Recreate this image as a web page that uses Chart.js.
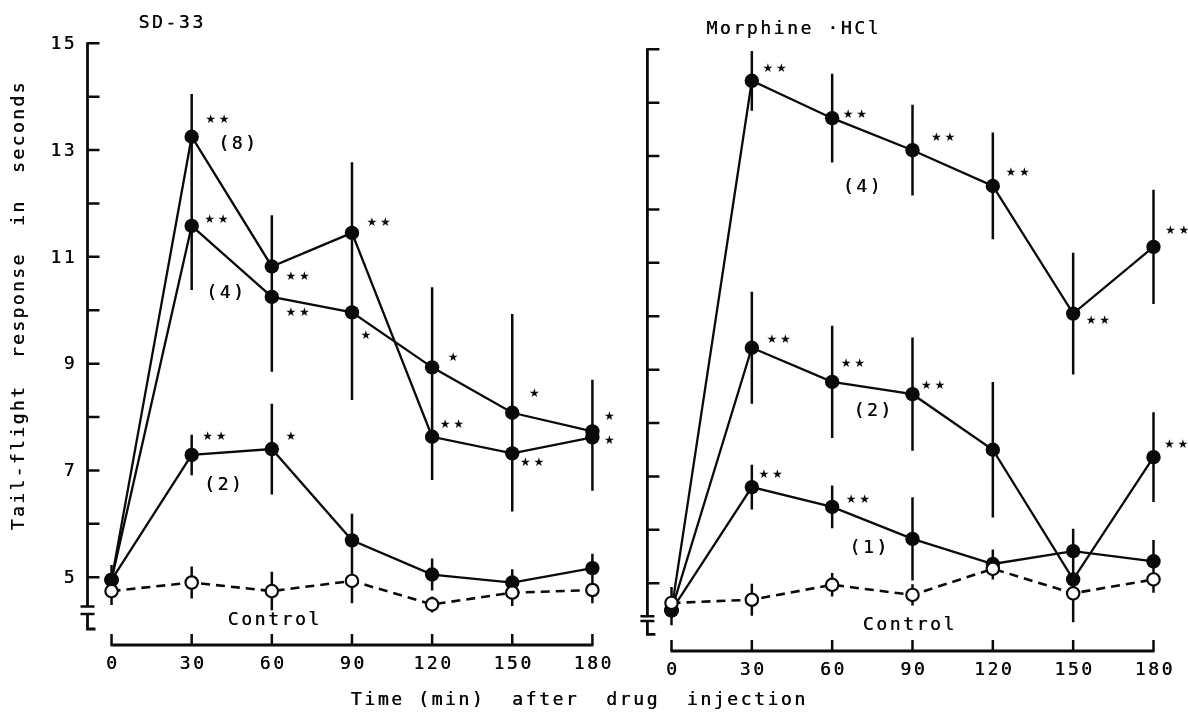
<!DOCTYPE html>
<html><head><meta charset="utf-8">
<script src="https://cdn.jsdelivr.net/npm/chart.js@4/dist/chart.umd.min.js"></script>
<style>
html,body{margin:0;padding:0;background:#fff;}
#wrap{position:relative;width:1188px;height:713px;overflow:hidden;}
canvas{position:absolute;left:0;top:0;}
</style></head><body>
<div id="wrap"><canvas id="cL" width="1188" height="713"></canvas><canvas id="cR" width="1188" height="713"></canvas></div>
<script>
// ---------- data ----------
const times = [0, 30, 60, 90, 120, 150, 180];
const xTickLabels = [0, 30, 60, 90, 120, 150, 180];
const yTickLabels = [5, 7, 9, 11, 13, 15];
const yTickMarks = [5, 6, 7, 8, 9, 10, 11, 12, 13, 14, 15];

// SD-33 (left panel)
const sd33Dose8 = [4.95, 13.25, 10.82, 11.45, 7.63, 7.32, 7.62];
const sd33Dose8Err = [0.28, 0.80, 0.96, 1.32, 0.81, 0.81, 1.00];
const sd33Dose4 = [4.95, 11.58, 10.25, 9.96, 8.93, 8.08, 7.73];
const sd33Dose4Err = [0.28, 1.20, 1.40, 1.64, 1.50, 1.85, 0.97];
const sd33Dose2 = [4.95, 7.29, 7.40, 5.69, 5.05, 4.90, 5.17];
const sd33Dose2Err = [0.28, 0.38, 0.85, 0.50, 0.30, 0.25, 0.27];
const sd33Control = [4.74, 4.90, 4.74, 4.93, 4.49, 4.71, 4.76];
const sd33ControlErr = [0.26, 0.30, 0.36, 0.42, 0.15, 0.25, 0.25];

// Morphine HCl (right panel)
const morDose4 = [4.49, 14.41, 13.71, 13.11, 12.44, 10.05, 11.30];
const morDose4Err = [0.28, 0.56, 0.83, 0.85, 1.00, 1.14, 1.07];
const morDose2 = [4.49, 9.41, 8.77, 8.54, 7.50, 5.07, 7.36];
const morDose2Err = [0.28, 1.05, 1.05, 1.06, 1.27, 0.80, 0.84];
const morDose1 = [4.49, 6.80, 6.43, 5.83, 5.36, 5.60, 5.41];
const morDose1Err = [0.28, 0.42, 0.40, 0.78, 0.27, 0.42, 0.40];
const morControl = [4.63, 4.69, 4.97, 4.78, 5.27, 4.81, 5.07];
const morControlErr = [0.30, 0.30, 0.22, 0.20, 0.20, 0.50, 0.25];

// significance marks: [seriesKey, pointIndex, text]
const sd33Stars = [
  ['d8',1,'**'],['d8',2,'**'],['d8',3,'**'],['d8',4,'**'],['d8',5,'**'],['d8',6,'*'],
  ['d4',1,'**'],['d4',2,'**'],['d4',3,'*'],['d4',4,'*'],['d4',5,'*'],['d4',6,'*'],
  ['d2',1,'**'],['d2',2,'*']
];
const morStars = [
  ['d4',1,'**'],['d4',2,'**'],['d4',3,'**'],['d4',4,'**'],['d4',5,'**'],['d4',6,'**'],
  ['d2',1,'**'],['d2',2,'**'],['d2',3,'**'],['d2',6,'**'],
  ['d1',1,'**'],['d1',2,'**']
];
// group labels: [text, time, value]
const sd33Labels = [['(8)', 47, 13.1], ['(4)', 42.5, 10.32], ['(2)', 41.7, 6.73], ['Control', 60.6, 4.2]];
const morLabels = [['(4)', 71, 12.42], ['(2)', 75, 8.21], ['(1)', 73.5, 5.65], ['Control', 88.5, 4.21]];

// ---------- styling / placement ----------
const INK = '#0a0a0a';
const FONT = '"DejaVu Sans Mono", "Liberation Mono", monospace';
const starOffsetsL = {
  'd8-1':[19,-17],'d8-2':[19,10],'d8-3':[20,-10],'d8-4':[13,-12],'d8-5':[13,10],'d8-6':[17,4],
  'd4-1':[18,-6],'d4-2':[19,16],'d4-3':[14,23],'d4-4':[21,-9],'d4-5':[22,-19],'d4-6':[17,-15],
  'd2-1':[16,-18],'d2-2':[19,-12]
};
const starOffsetsR = {
  'd4-1':[16,-12],'d4-2':[16,-3],'d4-3':[24,-12],'d4-4':[18,-13],'d4-5':[18,7],'d4-6':[17,-16],
  'd2-1':[20,-8],'d2-2':[14,-18],'d2-3':[14,-8],'d2-6':[16,-12],
  'd1-1':[12,-12],'d1-2':[19,-7]
};

function drawText(ctx, s, x, y, size, align, ls) {
  ctx.save();
  ctx.font = size + 'px ' + FONT;
  ctx.fillStyle = INK;
  ctx.textBaseline = 'middle';
  ctx.textAlign = 'left';
  if ('letterSpacing' in ctx) ctx.letterSpacing = ls + 'px';
  let w = ctx.measureText(s).width;
  if ('letterSpacing' in ctx) w -= ls;
  let x0 = x;
  if (align === 'center') x0 = x - w / 2;
  else if (align === 'right') x0 = x - w;
  ctx.fillText(s, x0, y);
  // slight emboldening like typewriter ink
  ctx.fillText(s, x0 + 0.4, y);
  ctx.restore();
}

function drawStars(ctx, n, x, y) {
  ctx.save();
  ctx.font = '12px "DejaVu Sans"';
  ctx.fillStyle = INK;
  ctx.textAlign = 'center';
  ctx.textBaseline = 'middle';
  for (let k = 0; k < n; k++) ctx.fillText('\u2605', x + k * 13.5, y);
  ctx.restore();
}

function makePanel(cfg) {
  const series = cfg.series;
  const datasets = [];
  const order = ['ctrl'].concat(Object.keys(series).filter(k => k !== 'ctrl'));
  order.forEach(k => {
    const s = series[k];
    const isCtrl = k === 'ctrl';
    datasets.push({
      label: k,
      data: times.map((t, i) => ({x: t, y: s.v[i]})),
      borderColor: INK,
      borderWidth: isCtrl ? 2.6 : 2.3,
      borderDash: isCtrl ? [9, 6] : [],
      pointRadius: isCtrl ? 6.2 : 7.2,
      pointHoverRadius: isCtrl ? 6.2 : 7.2,
      pointBackgroundColor: isCtrl ? '#fff' : INK,
      pointBorderColor: INK,
      pointBorderWidth: isCtrl ? 2.2 : 0,
      tension: 0,
      fill: false,
      clip: false
    });
  });

  const decor = {
    id: 'decor' + cfg.id,
    beforeDatasetsDraw(chart) {
      const ctx = chart.ctx, xs = chart.scales.x, ys = chart.scales.y;
      const ax = xs.getPixelForValue(xs.min);
      ctx.save();
      ctx.strokeStyle = INK;
      ctx.lineCap = 'butt';
      ctx.lineWidth = 2.8;
      const yTop = ys.getPixelForValue(15);
      const yB1 = ys.getPixelForValue(cfg.breakVals[0]);
      const yB2 = ys.getPixelForValue(cfg.breakVals[1]);
      const yBot = ys.getPixelForValue(cfg.bottomVal);
      ctx.beginPath();
      ctx.moveTo(ax, yTop - 1); ctx.lineTo(ax, yB1);
      ctx.moveTo(ax, yB2); ctx.lineTo(ax, yBot);
      ctx.lineTo(ax + 8, yBot);
      ctx.stroke();
      ctx.lineWidth = 2.5;
      ctx.beginPath();
      ctx.moveTo(ax - 7, yB1); ctx.lineTo(ax + 7, yB1);
      ctx.moveTo(ax - 7, yB2); ctx.lineTo(ax + 7, yB2);
      ctx.stroke();
      ctx.lineWidth = 2.5;
      ctx.beginPath();
      yTickMarks.forEach(v => {
        const y = ys.getPixelForValue(v);
        ctx.moveTo(ax, y); ctx.lineTo(ax + 12, y);
      });
      ctx.stroke();
      const yx = ys.getPixelForValue(ys.min);
      ctx.lineWidth = 2.8;
      ctx.beginPath();
      ctx.moveTo(xs.getPixelForValue(times[0]) - 1, yx);
      ctx.lineTo(xs.getPixelForValue(times[times.length - 1]) + 1, yx);
      ctx.stroke();
      ctx.lineWidth = 2.5;
      ctx.beginPath();
      xTickLabels.forEach(t => {
        const x = xs.getPixelForValue(t);
        ctx.moveTo(x, yx); ctx.lineTo(x, yx - 11);
      });
      ctx.stroke();
      ctx.lineWidth = 2.5;
      ctx.beginPath();
      Object.keys(series).forEach(k => {
        const s = series[k];
        times.forEach((t, i) => {
          const x = xs.getPixelForValue(t);
          ctx.moveTo(x, ys.getPixelForValue(s.v[i] + s.e[i]));
          ctx.lineTo(x, ys.getPixelForValue(s.v[i] - s.e[i]));
        });
      });
      ctx.stroke();
      ctx.restore();
    },
    afterDatasetsDraw(chart) {
      const ctx = chart.ctx, xs = chart.scales.x, ys = chart.scales.y;
      const ax = xs.getPixelForValue(xs.min);
      const yx = ys.getPixelForValue(ys.min);
      xTickLabels.forEach(t => drawText(ctx, String(t), xs.getPixelForValue(t), yx + 19, 18, 'center', 2.6));
      if (cfg.yLabels) yTickLabels.forEach(v => drawText(ctx, String(v), ax - 13, ys.getPixelForValue(v) + 1, 18, 'right', 2.6));
      drawText(ctx, cfg.title, ax + cfg.titleDx, ys.getPixelForValue(15) - 20, 18, 'left', 2.6);
      cfg.labels.forEach(([s, t, v]) => drawText(ctx, s, xs.getPixelForValue(t), ys.getPixelForValue(v), 18, 'center', 2.6));
      cfg.stars.forEach(([k, i, s]) => {
        const off = cfg.starOffsets[k + '-' + i];
        const x = xs.getPixelForValue(times[i]) + off[0];
        const y = ys.getPixelForValue(series[k].v[i]) + off[1];
        drawStars(ctx, s.length, x, y);
      });
      if (cfg.extra) cfg.extra(ctx);
    }
  };

  return new Chart(document.getElementById(cfg.id), {
    type: 'line',
    data: {datasets},
    options: {
      responsive: false,
      animation: false,
      layout: {padding: cfg.pad},
      scales: {
        x: {type: 'linear', min: -9, max: 180, display: false},
        y: {type: 'linear', min: 3.73, max: 15, display: false}
      },
      plugins: {legend: {display: false}, tooltip: {enabled: false}}
    },
    plugins: [decor]
  });
}

makePanel({
  id: 'cL',
  pad: {left: 87.5, top: 43.3, right: 1188 - 592.4, bottom: 713 - 645},
  series: {
    ctrl: {v: sd33Control, e: sd33ControlErr},
    d8: {v: sd33Dose8, e: sd33Dose8Err},
    d4: {v: sd33Dose4, e: sd33Dose4Err},
    d2: {v: sd33Dose2, e: sd33Dose2Err}
  },
  breakVals: [4.45, 4.31], bottomVal: 4.03,
  yLabels: true, title: 'SD-33', titleDx: 51,
  labels: sd33Labels, stars: sd33Stars, starOffsets: starOffsetsL,
  extra(ctx) {
    ctx.save();
    ctx.translate(19, 306.5);
    ctx.rotate(-Math.PI / 2);
    drawText(ctx, 'Tail-flight  response  in  seconds', 0, 0, 18, 'center', 2.4);
    ctx.restore();
    drawText(ctx, 'Time (min)  after  drug  injection', 578, 700, 18, 'center', 2.6);
  }
});

makePanel({
  id: 'cR',
  pad: {left: 647.4, top: 49.3, right: 1188 - 1153.5, bottom: 713 - 651},
  series: {
    ctrl: {v: morControl, e: morControlErr},
    d4: {v: morDose4, e: morDose4Err},
    d2: {v: morDose2, e: morDose2Err},
    d1: {v: morDose1, e: morDose1Err}
  },
  breakVals: [4.38, 4.29], bottomVal: 4.04,
  yLabels: false, title: 'Morphine \u00B7HCl', titleDx: 59,
  labels: morLabels, stars: morStars, starOffsets: starOffsetsR
});
</script>
</body></html>
